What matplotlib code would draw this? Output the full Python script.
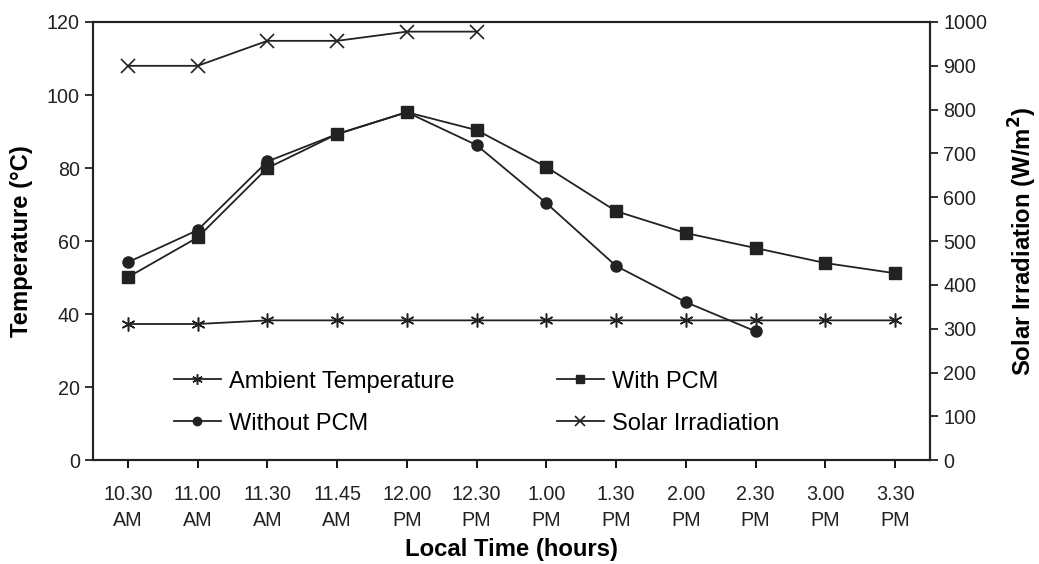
import matplotlib
matplotlib.use("Agg")
import matplotlib.pyplot as plt
import numpy as np

plt.rcParams['font.family'] = ['Liberation Sans', 'DejaVu Sans']

time_labels = ["10.30\nAM", "11.00\nAM", "11.30\nAM", "11.45\nAM", "12.00\nPM", "12.30\nPM",
               "1.00\nPM", "1.30\nPM", "2.00\nPM", "2.30\nPM", "3.00\nPM", "3.30\nPM"]
ambient = [37.3, 37.3, 38.3, 38.3, 38.3, 38.3, 38.3, 38.3, 38.3, 38.3, 38.3, 38.3]
with_pcm = [50.1, 61.0, 80.0, 89.3, 95.3, 90.4, 80.3, 68.2, 62.2, 58.1, 54.0, 51.2]
without_pcm = [54.2, 63.0, 81.8, 89.3, 95.3, 86.3, 70.4, 53.2, 43.3, 35.3]
solar = [900, 900, 957, 957, 978, 978]

fig = plt.figure(figsize=(10.39, 5.64), dpi=100)
ax = fig.add_axes([0.0895, 0.184, 0.8055, 0.777])
ax2 = ax.twinx()

x = np.arange(len(time_labels))
lc = '#222222'
l1, = ax.plot(x, ambient, color=lc, lw=1.3, marker=(6, 2, 0), ms=10, mew=1.1, label='Ambient Temperature')
l2, = ax.plot(x[:len(without_pcm)], without_pcm, color=lc, lw=1.3, marker='o', ms=8, label='Without PCM')
l3, = ax.plot(x, with_pcm, color=lc, lw=1.3, marker='s', ms=8.5, label='With PCM')
l4, = ax2.plot(x[:len(solar)], solar, color=lc, lw=1.3, marker='x', ms=10, mew=1.2, label='Solar Irradiation')

ax.set_xlim(-0.5, len(time_labels) - 0.5)
ax.set_ylim(0, 120)
ax2.set_ylim(0, 1000)
ax.set_yticks(np.arange(0, 121, 20))
ax2.set_yticks(np.arange(0, 1001, 100))
ax.set_xticks(x)
ax.set_xticklabels(time_labels, fontsize=14.2, color='#222222', linespacing=1.45)
ax.tick_params(axis='y', labelsize=14.2, colors='#222222', length=6, width=1.3, direction='out')
ax.tick_params(axis='x', length=6, width=1.3, direction='out', pad=12)
ax2.tick_params(axis='y', labelsize=14.2, colors='#222222', length=6, width=1.3, direction='out')
for a in (ax, ax2):
    for s in a.spines.values():
        s.set_linewidth(1.5)
        s.set_color('#222222')

ax.set_ylabel('Temperature (°C)', fontsize=17.2, fontweight='bold', labelpad=10)
ax2.set_ylabel('Solar Irradiation (W/m$^\\mathbf{2}$)', fontsize=17.2, fontweight='bold', labelpad=14)
ax.set_xlabel('Local Time (hours)', fontsize=17.2, fontweight='bold', labelpad=6)

leg = ax.legend(handles=[l1, l2, l3, l4], ncol=2, frameon=False, fontsize=17,
                loc='lower left', bbox_to_anchor=(0.071, 0.01), handlelength=2.0,
                columnspacing=4.33, labelspacing=0.84, handletextpad=0.35, markerscale=0.75)

fig.savefig('out.png', dpi=100)
